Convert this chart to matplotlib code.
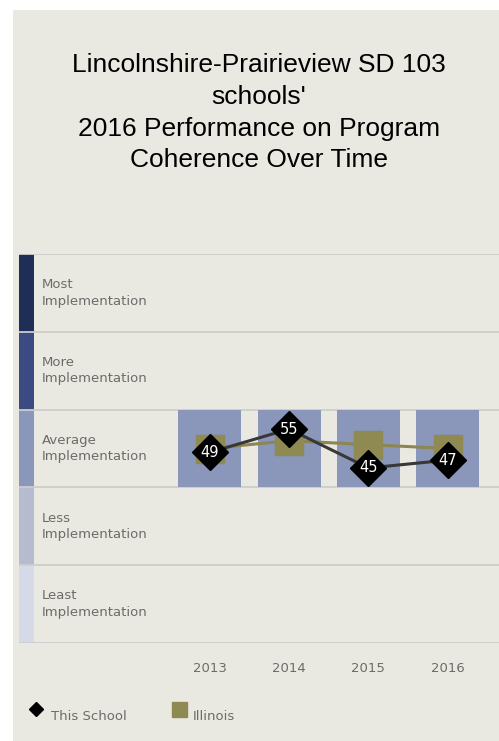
import numpy as np
import matplotlib.pyplot as plt
from matplotlib.patches import Rectangle
from matplotlib.lines import Line2D
from matplotlib.transforms import blended_transform_factory

years = ["2013", "2014", "2015", "2016"]
school = [49, 55, 45, 47]
illinois = [50, 52, 51, 50]
bands = ["Least\nImplementation", "Less\nImplementation", "Average\nImplementation",
         "More\nImplementation", "Most\nImplementation"]
band_colors = ["#d6dae8", "#b7bbd0", "#8a96ba", "#3b4b82", "#1f2e57"]
title_lines = ["Lincolnshire-Prairieview SD 103", "schools'",
               "2016 Performance on Program", "Coherence Over Time"]

bg = "#eae9e1"
W, H = 499, 741
fig = plt.figure(figsize=(W / 100, H / 100), dpi=100, facecolor="white")
fig.add_artist(Rectangle((13 / W, 0), 1 - 13 / W, 1 - 10 / H, transform=fig.transFigure,
                         facecolor=bg, edgecolor="none", zorder=-10))

# title
for i, line in enumerate(title_lines):
    yb = 72 + i * 31.8
    fig.text(259 / W, 1 - yb / H, line, ha="center", va="baseline",
             fontsize=19, family="Liberation Sans", color="black")

ax = fig.add_axes([19 / W, 1 - 643 / H, 1 - 19 / W, (643 - 254) / H])
ax.set_facecolor("none")
for s in ax.spines.values():
    s.set_visible(False)

x = np.arange(len(years))
ax.set_xlim(-2.41, 3.65)
ax.set_ylim(0, 100)

# band colour strip + labels
blend = blended_transform_factory(ax.transAxes, ax.transData)
for i, (lab, c) in enumerate(zip(bands, band_colors)):
    ax.add_patch(Rectangle((0, i * 20), 15 / 480, 20, transform=blend,
                           facecolor=c, edgecolor="none", zorder=1))
    ax.text(23 / 480, i * 20 + 10, lab, transform=blend, ha="left", va="center",
            fontsize=9.5, color="#6b6b6b", linespacing=1.35)
for b in range(6):
    ax.axhline(b * 20, color="#cdcdcd", lw=1.3, zorder=2)

# bars in the band of the school's score
bottoms = [np.floor(v / 20) * 20 for v in school]
ax.bar(x, 20, bottom=bottoms, width=0.795, color="#8a96ba", zorder=2)

ax.plot(x, illinois, color="#8c8650", lw=2.2, zorder=3)
ax.plot(x, illinois, "s", ms=19.5, color="#8f8a52", zorder=3)
ax.plot(x, school, color="#383838", lw=2.2, zorder=4)
ax.plot(x, school, "D", ms=18.5, color="black", zorder=5)
for xi, v in zip(x, school):
    ax.text(xi, v, str(v), ha="center", va="center", color="white", fontsize=10.5, zorder=6)

ax.set_xticks(x)
ax.set_xticklabels(years, fontsize=9.5, color="#6b6b6b")
ax.set_yticks([])
ax.tick_params(axis="x", length=0, pad=14)

# legend
fig.add_artist(Line2D([35.5 / W], [1 - 709 / H], marker="D", ms=7, color="black",
                      ls="None", transform=fig.transFigure))
fig.text(51 / W, 1 - 716 / H, "This School", ha="left", va="center",
         fontsize=9.5, color="#6b6b6b")
fig.add_artist(Line2D([178.5 / W], [1 - 708.5 / H], marker="s", ms=10.8, color="#8f8a52",
                      ls="None", transform=fig.transFigure))
fig.text(193 / W, 1 - 716 / H, "Illinois", ha="left", va="center",
         fontsize=9.5, color="#6b6b6b")

fig.savefig("out.png", dpi=100, facecolor="white")
